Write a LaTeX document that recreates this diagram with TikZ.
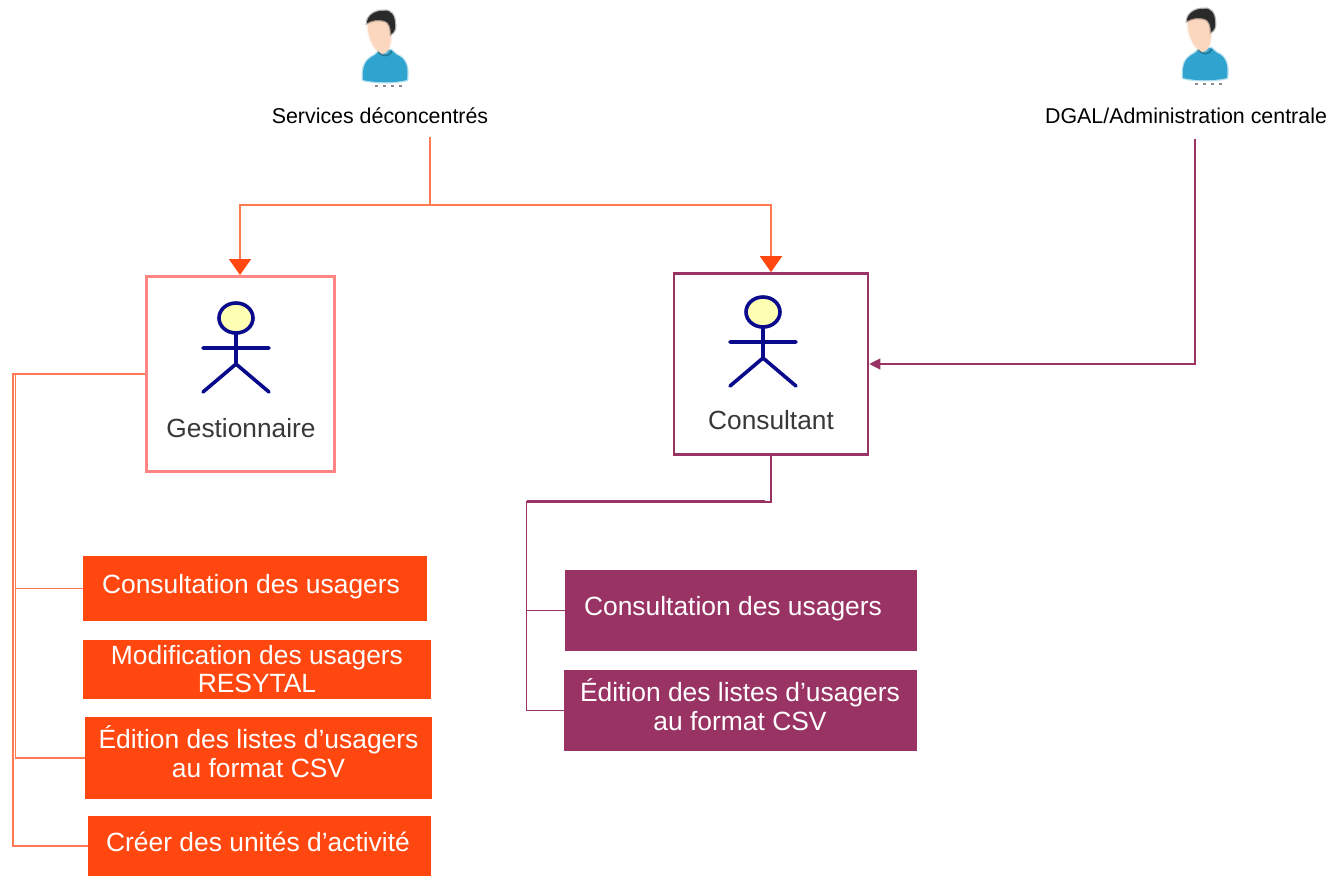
\documentclass[tikz,border=0pt]{standalone}
\usepackage{fontspec}
\setmainfont{Liberation Sans}
\usetikzlibrary{arrows.meta}
\definecolor{orangefill}{HTML}{FF470F}
\definecolor{orangeline}{HTML}{FF7A50}
\definecolor{pinkline}{HTML}{FF8585}
\definecolor{plum}{HTML}{993364}
\definecolor{navyfig}{HTML}{0A0A8C}
\definecolor{headfill}{HTML}{FFFFB4}
\definecolor{shirt}{HTML}{2FA4CF}
\definecolor{skin}{HTML}{FBD7C0}
\definecolor{hair}{HTML}{2A2A2A}
\tikzset{
  x=1pt,y=-1pt,
  toplabel/.style={font=\fontsize{21.4}{25}\selectfont,text=black,inner sep=0pt,anchor=base},
  rolelabel/.style={font=\fontsize{26.3}{30}\selectfont,text=black!78,inner sep=0pt,anchor=base},
  boxtext/.style={font=\fontsize{26.4}{28.7}\selectfont,text=white,inner sep=0pt,align=center},
  orangebox/.style={fill=orangefill,draw=none,inner sep=0pt,anchor=north west},
  plumbox/.style={fill=plum,draw=none,inner sep=0pt,anchor=north west},
  rolebox/.style={fill=white,inner sep=0pt,anchor=center},
  oline/.style={draw=orangeline,line width=1.5pt},
  pline/.style={draw=plum,line width=1.2pt},
  otip/.style={-{Triangle[length=16pt,width=22pt,color=orangefill]}},
  ptip/.style={-{Triangle[length=11pt,width=11pt,color=plum]}},
  stick/.style={draw=navyfig,line width=3.6pt,line cap=round},
  soft/.style={line width=2.5pt,draw opacity=.35},
}
\newcommand{\personicon}[2]{%
  \begin{scope}[shift={(#1,#2)}]
    \path[fill=shirt,draw=shirt,soft] (-22,80) .. controls (-23,66) and (-20,60) .. (-10,55) -- (-6,51) -- (6,50) -- (12,55) .. controls (20,58) and (24,66) .. (22,80) .. controls (10,83) and (-10,83) .. (-22,80) -- cycle;
    \path[fill=skin,draw=skin,soft] (-17,20) .. controls (-19,34) and (-12,50) .. (-3,54) .. controls (3,54) and (6,46) .. (6,34) -- (6,18) -- cycle;
    \path[fill=hair,draw=hair,soft] (-18,23) .. controls (-18,15) and (-8,10) .. (-2,11) .. controls (6,9) and (10,16) .. (10,24) .. controls (11,28) and (9,33) .. (6,34) .. controls (6,28) and (4,22) .. (0,21) .. controls (-6,19) and (-13,20) .. (-18,23) -- cycle;
    \draw[shirt!60!black,line width=1.4pt,draw opacity=.7] (-7,52) .. controls (-3,57) and (5,57) .. (7,51);
    \draw[black!45,line width=2pt,dash pattern=on 3pt off 5pt] (-10,86) -- (17,86);
  \end{scope}}
\newcommand{\stickfigure}[2]{%
  \begin{scope}[shift={(#1,#2)}]
    \draw[stick,fill=headfill] (0,0) ellipse [x radius=17,y radius=15];
    \draw[stick] (0,15) -- (0,46) (-33,30) -- (33,30) (-33,74) -- (0,46) -- (33,74);
  \end{scope}}
\begin{document}
\begin{tikzpicture}
\useasboundingbox (0,0) rectangle (1334,876);
% icons
\personicon{385}{0}
\personicon{1205}{-2}
% top labels
\node[toplabel] (services) at (380,123.2) {Services déconcentrés};
\node[toplabel] (dgal) at (1186,123.2) {DGAL/Administration centrale};
\coordinate (servout) at (430,137);
\coordinate (servjoin) at (430,205);
\coordinate (dgalout) at (1195,139);
% role boxes
\node[rolebox,draw=pinkline,line width=3pt,minimum width=188pt,minimum height=195pt] (gest) at (240,374) {};
\node[rolebox,draw=plum,line width=2.6pt,minimum width=194pt,minimum height=181pt] (cons) at (771,364) {};
\stickfigure{236}{318}
\stickfigure{763}{312}
\node[rolelabel] (gesttext) at (241,437) {Gestionnaire};
\node[rolelabel] (constext) at (771,429) {Consultant};
% orange boxes
\node[orangebox,minimum width=344pt,minimum height=65pt] (o1) at (83,556) {};
\node[boxtext] at (251,586.5) {Consultation des usagers};
\node[orangebox,minimum width=348pt,minimum height=59pt] (o2) at (83,640) {};
\node[boxtext] at (257,669) {Modification des usagers\\RESYTAL};
\node[orangebox,minimum width=347pt,minimum height=82pt] (o3) at (85,717) {};
\node[boxtext] at (258.5,752) {Édition des listes d’usagers\\au format CSV};
\node[orangebox,minimum width=343pt,minimum height=60pt] (o4) at (88,816) {};
\node[boxtext] at (258,842) {Créer des unités d’activité};
% plum boxes
\node[plumbox,minimum width=352pt,minimum height=81pt] (p1) at (565,570) {};
\node[boxtext] at (733,608.5) {Consultation des usagers};
\node[plumbox,minimum width=353pt,minimum height=81pt] (p2) at (564,670) {};
\node[boxtext] at (740,705) {Édition des listes d’usagers\\au format CSV};
% connectors
\draw[oline] (servout) -- (servjoin);
\draw[oline,otip] (servjoin) -| (gest.north);
\draw[oline,otip] (servjoin) -| (cons.north);
\draw[pline,ptip] (dgalout) |- (cons.east);
\coordinate (overt) at (13,374);
\coordinate (overt2) at (15.5,374);
\draw[oline] (gest.west) -- (overt) |- (o4.west);
\draw[oline] (overt2) |- (o1.west);
\draw[oline] (overt2) |- (o3.west);
\coordinate (pjoin) at (771,502);
\coordinate (pvert) at (526.5,502);
\draw[pline] (cons.south) -- (pjoin) -- (pvert) |- (p2.west);
\draw[pline] (pvert |- 0,500.5) -- (765,500.5);
\draw[pline] (pvert) |- (p1.west);
\end{tikzpicture}
\end{document}
